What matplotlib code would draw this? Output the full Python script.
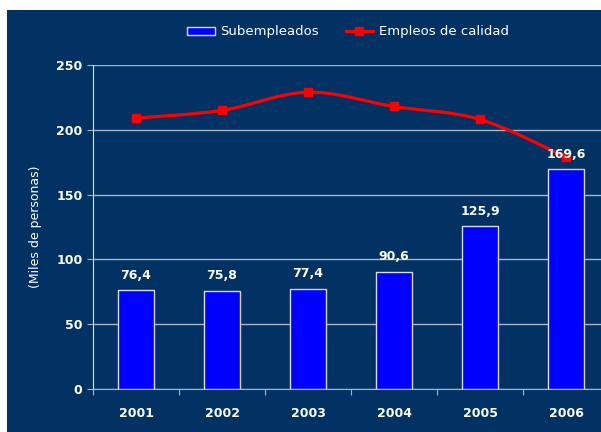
import numpy as np
import matplotlib
matplotlib.use('Agg')
import matplotlib.pyplot as plt
from matplotlib.path import Path
from matplotlib.patches import PathPatch, Rectangle
from matplotlib.lines import Line2D

years = ['2001', '2002', '2003', '2004', '2005', '2006']
subempleados = [76.4, 75.8, 77.4, 90.6, 125.9, 169.6]
empleos_calidad = [209, 215, 229, 218, 208, 179]
bar_labels = ['76,4', '75,8', '77,4', '90,6', '125,9', '169,6']

NAVY = '#023263'
GRID = '#A9B4C2'


def smooth_path(xs, ys, k=1 / 6):
    # Catmull-Rom style cubic Bezier through the points
    verts = [(xs[0], ys[0])]
    codes = [Path.MOVETO]
    n = len(xs)
    for i in range(n - 1):
        x0, y0 = (xs[i - 1], ys[i - 1]) if i > 0 else (xs[i], ys[i])
        x1, y1 = xs[i], ys[i]
        x2, y2 = xs[i + 1], ys[i + 1]
        x3, y3 = (xs[i + 2], ys[i + 2]) if i + 2 < n else (x2, y2)
        verts += [(x1 + (x2 - x0) * k, y1 + (y2 - y0) * k),
                  (x2 - (x3 - x1) * k, y2 - (y3 - y1) * k),
                  (x2, y2)]
        codes += [Path.CURVE4] * 3
    return Path(verts, codes)


fig = plt.figure(figsize=(6.01, 4.32), dpi=100)
fig.patch.set_facecolor('white')
fig.add_artist(Rectangle((7 / 601, 0), 1, 1 - 10 / 432, transform=fig.transFigure,
                         facecolor=NAVY, edgecolor='none', zorder=-10))

# axes: left x=93, right x=609 (cropped), top y=65, bottom y=389
ax = fig.add_axes([93 / 601, (432 - 389) / 432, 516 / 601, 324 / 432])
ax.set_facecolor(NAVY)
x = np.arange(len(years))
ax.set_xlim(-0.5, len(years) - 0.5)
ax.set_ylim(0, 250)

ax.bar(x, subempleados, width=0.41, color='#0000FF', edgecolor='#D8DCEA',
       linewidth=1, zorder=3)
for xi, v, lab in zip(x, subempleados, bar_labels):
    ax.annotate(lab, (xi, v), xytext=(0, 6), textcoords='offset points',
                ha='center', va='bottom', color='white', fontsize=9,
                fontweight='bold', zorder=5)

ax.add_patch(PathPatch(smooth_path(list(x), empleos_calidad), facecolor='none',
                       edgecolor='#FF0000', lw=2.3, zorder=4))
ax.plot(x, empleos_calidad, linestyle='none', marker='s', markersize=6,
        color='#FF0000', zorder=4)

ax.set_yticks(range(0, 251, 50))
ax.yaxis.grid(True, color=GRID, lw=1)
ax.set_axisbelow(True)
ax.set_xticks(np.arange(-0.5, len(years), 1), minor=False)
ax.set_xticklabels([])
ax.set_xticks(x, minor=True)
ax.set_xticklabels(years, minor=True)
ax.tick_params(axis='x', which='minor', length=0, pad=13, labelsize=9,
               labelcolor='white')
ax.tick_params(axis='x', which='major', length=4, direction='out', color=GRID)
ax.tick_params(axis='y', length=4, color=GRID, labelcolor='white', labelsize=9)
for lab in ax.get_xticklabels(minor=True) + ax.get_yticklabels():
    lab.set_fontweight('bold')
for side in ['top', 'right']:
    ax.spines[side].set_visible(False)
ax.spines['left'].set_color('#E0E4EE')
ax.spines['bottom'].set_color(GRID)
ax.set_ylabel('(Miles de personas)', color='white', fontsize=9, labelpad=10)

handles = [Rectangle((0, 0), 1, 1, facecolor='#0000FF', edgecolor='#D8DCEA'),
           Line2D([], [], color='#FF0000', lw=2.3, marker='s', markersize=6)]
leg = fig.legend(handles, ['Subempleados', 'Empleos de calidad'], loc='center',
                 bbox_to_anchor=(348 / 601, 1 - 32 / 432), ncol=2, frameon=False,
                 fontsize=9.5, handlelength=2.1, handleheight=0.6,
                 columnspacing=2.0, handletextpad=0.45)
for t in leg.get_texts():
    t.set_color('white')

plt.savefig('out.png', dpi=100, facecolor=fig.get_facecolor())
